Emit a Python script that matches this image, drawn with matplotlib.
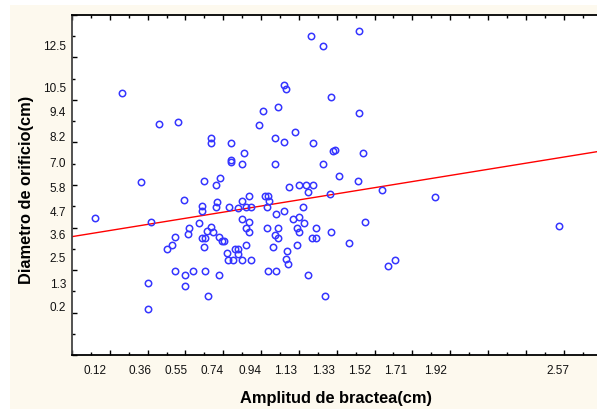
import matplotlib
matplotlib.use("Agg")
import matplotlib.pyplot as plt
import matplotlib.transforms as mtransforms
from matplotlib.patches import Rectangle
from matplotlib.ticker import MultipleLocator, NullFormatter
import numpy as np

plt.rcParams['font.family'] = ['Liberation Sans', 'DejaVu Sans']

# Bract width (cm) and orifice diameter (cm)
bract_width = [
    0.120, 0.263, 0.363, 0.419, 0.402, 0.402, 0.462, 0.562, 0.501, 0.530,
    0.547, 0.546, 0.591, 0.599, 0.599, 0.620, 0.611, 0.639, 0.672, 0.700,
    0.687, 0.690, 0.687, 0.701, 0.699, 0.701, 0.712, 0.721, 0.737, 0.737,
    0.735, 0.746, 0.763, 0.781, 0.769, 0.764, 0.780, 0.791, 0.804, 0.780,
    0.822, 0.823, 0.828, 0.839, 0.839, 0.839, 0.862, 0.878, 0.878, 0.851,
    0.901, 0.949, 0.880, 0.901, 0.901, 0.901, 0.911, 0.919, 0.918, 0.938,
    0.938, 0.920, 0.937, 0.948, 0.990, 1.012, 1.018, 1.039, 1.043, 1.030,
    1.030, 1.038, 1.080, 1.065, 1.075, 1.088, 1.089, 1.079, 1.121, 1.074,
    1.075, 1.091, 1.119, 1.130, 1.119, 1.179, 1.139, 1.132, 1.140, 1.149,
    1.171, 1.200, 1.189, 1.201, 1.192, 1.203, 1.240, 1.273, 1.250, 1.220,
    1.228, 1.250, 1.264, 1.273, 1.269, 1.292, 1.290, 1.329, 1.329, 1.338,
    1.363, 1.370, 1.371, 1.380, 1.391, 1.410, 1.465, 1.511, 1.519, 1.519,
    1.539, 1.551, 1.639, 1.673, 1.710, 1.921, 2.574,
]
orifice_diameter = [
    4.46, 10.31, 6.12, 4.28, 1.37, 0.15, 8.89, 8.98, 2.99, 3.17,
    3.53, 1.97, 5.28, 1.24, 1.76, 4.00, 3.69, 1.97, 4.20, 6.20,
    5.02, 4.80, 3.50, 3.50, 3.09, 1.97, 3.85, 0.77, 8.21, 7.98,
    4.01, 3.77, 5.98, 6.32, 5.18, 4.97, 3.53, 3.38, 3.36, 1.78,
    2.81, 2.47, 4.98, 7.99, 7.19, 7.07, 3.01, 2.97, 2.73, 2.47,
    2.47, 2.47, 4.91, 4.39, 5.25, 7.00, 7.51, 4.98, 4.00, 3.80,
    4.27, 3.20, 5.50, 4.98, 8.81, 9.50, 5.50, 5.49, 5.25, 4.98,
    3.98, 1.97, 1.97, 3.09, 3.65, 3.50, 3.99, 4.65, 4.78, 8.20,
    7.01, 9.69, 10.70, 10.50, 8.01, 8.48, 2.90, 2.50, 2.28, 5.89,
    4.39, 4.48, 4.00, 3.80, 3.20, 5.98, 5.98, 5.98, 5.66, 4.98,
    4.20, 1.76, 13.01, 7.99, 3.50, 3.50, 3.98, 12.53, 7.01, 0.77,
    5.60, 10.12, 3.79, 7.59, 7.66, 6.40, 3.28, 6.20, 13.24, 9.41,
    7.51, 4.28, 5.77, 2.18, 2.47, 5.43, 4.06,
]

# Fitted straight line
fit_intercept = 3.57
fit_slope = 1.44

# Labelled values along each axis
x_tick_values = [0.12, 0.36, 0.55, 0.74, 0.94, 1.13, 1.33, 1.52, 1.71, 1.92, 2.57]
x_tick_labels = ["0.12", "0.36", "0.55", "0.74", "0.94", "1.13", "1.33",
                 "1.52", "1.71", "1.92", "2.57"]
y_tick_values = [0.2, 1.3, 2.5, 3.6, 4.7, 5.8, 7.0, 8.2, 9.4, 10.5, 12.5]
y_tick_labels = ["0.2", "1.3", "2.5", "3.6", "4.7", "5.8", "7.0", "8.2",
                 "9.4", "10.5", "12.5"]

W, H = 597, 409
fig = plt.figure(figsize=(W / 100, H / 100), dpi=100)
fig.patch.set_facecolor('white')

# cream panel behind the plot
fig.patches.append(Rectangle((10 / W, 0), 1 - 10 / W, 1 - 5 / H,
                             transform=fig.transFigure, facecolor='#FDF9EE',
                             edgecolor='none', zorder=-10))

left_px, top_px, bottom_px = 72, 15, 355
x_min, x_max = 0.0, 2.8
y_min, y_max = -2.0, 14.0
px_per_x = 189.1
right_px = left_px + (x_max - x_min) * px_per_x
ax = fig.add_axes([left_px / W, (H - bottom_px) / H,
                   (right_px - left_px) / W, (bottom_px - top_px) / H])
ax.set_facecolor('white')
ax.set_xlim(x_min, x_max)
ax.set_ylim(y_min, y_max)

for side in ['left', 'bottom', 'top']:
    ax.spines[side].set_linewidth(1.3)
    ax.spines[side].set_color('black')
ax.spines['left'].set_color('#444444')
ax.spines['right'].set_visible(False)

ax.xaxis.set_major_locator(MultipleLocator(0.2))
ax.xaxis.set_minor_locator(MultipleLocator(0.1))
ax.yaxis.set_major_locator(MultipleLocator(2))
ax.yaxis.set_minor_locator(MultipleLocator(1))
ax.xaxis.set_major_formatter(NullFormatter())
ax.yaxis.set_major_formatter(NullFormatter())
ax.tick_params(axis='x', which='both', direction='in', top=True, bottom=True,
               color='black')
ax.tick_params(axis='y', which='both', direction='in', left=True, right=False,
               color='black')
ax.tick_params(which='major', length=3.5, width=1)
ax.tick_params(which='minor', length=2, width=1)

# scatter of observations
ax.plot(bract_width, orifice_diameter, linestyle='none', marker='o',
        markersize=4.6, markerfacecolor='none', markeredgecolor='#3535FF',
        markeredgewidth=1.1, zorder=3)

# fitted line
xx = np.array([x_min, x_max])
ax.plot(xx, fit_intercept + fit_slope * xx, color='#FF0000', linewidth=1.0,
        zorder=2)

# value labels along the axes
tx = mtransforms.blended_transform_factory(ax.transData, ax.transAxes)
for v, lab in zip(x_tick_values, x_tick_labels):
    ax.text(v, -16 / (bottom_px - top_px), lab, transform=tx, ha='center',
            va='center', fontsize=8.5, color='#111111', clip_on=False)
ty = mtransforms.blended_transform_factory(ax.transAxes, ax.transData)
for v, lab in zip(y_tick_values, y_tick_labels):
    ax.text(-6 / (right_px - left_px), v, lab, transform=ty, ha='right',
            va='center', fontsize=8.5, color='#111111', clip_on=False)

fig.text(336 / W, 1 - 398 / H, "Amplitud de bractea(cm)", ha='center',
         va='center', fontsize=11.8, fontweight='bold')
fig.text(27 / W, 1 - 190 / H, "Diametro de orificio(cm)", ha='center',
         va='center', rotation=90, fontsize=11.8, fontweight='bold')

fig.savefig("out.png", dpi=100)
